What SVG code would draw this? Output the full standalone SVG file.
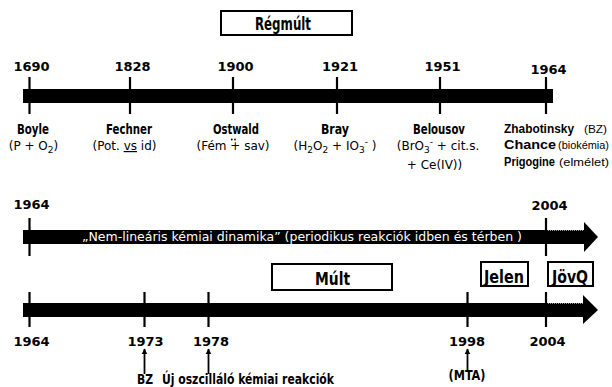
<svg xmlns="http://www.w3.org/2000/svg" width="612" height="387" viewBox="0 0 612 387">
<style>
  .bar{fill:#000}
  .tick{stroke:#000;stroke-width:2.2}
  .box{fill:#fff;stroke:#000;stroke-width:2}
  .yr{font-family:"DejaVu Sans",Verdana,sans-serif;font-weight:bold;font-size:13px;fill:#000;text-anchor:middle}
  .nm{font-family:"Liberation Sans Narrow","DejaVu Sans Condensed","Liberation Sans",sans-serif;font-weight:bold;font-size:13.5px;fill:#000}
  .nr{font-family:"Liberation Sans",Arial,sans-serif;font-weight:bold;font-size:13px;fill:#000}
  .bx{font-family:"Liberation Sans Narrow","DejaVu Sans Condensed","Liberation Sans",sans-serif;font-weight:bold;font-size:17px;fill:#000;text-anchor:middle}
  .tx{font-family:"DejaVu Sans",Tahoma,sans-serif;font-size:12px;fill:#000}
  .sm{font-family:"Liberation Sans",Arial,sans-serif;font-size:11px;fill:#000}
  .wt{font-family:"DejaVu Sans",Tahoma,sans-serif;font-size:12px;fill:#fff}
  .con{stroke:#000;stroke-width:1.8;fill:none;marker-end:url(#ah)}
  .mid{text-anchor:middle}
</style>
<defs>
  <marker id="ah" viewBox="0 0 10 10" refX="9" refY="5" markerWidth="3.2" markerHeight="4" orient="auto" markerUnits="strokeWidth">
    <path d="M0,0 L10,5 L0,10 Z" fill="#000"/>
  </marker>
</defs>

<!-- Régmúlt box -->
<g id="box-regmult">
  <rect class="box" x="221" y="11" width="131" height="24"/>
  <text class="bx" x="283" y="29.5" textLength="56" lengthAdjust="spacingAndGlyphs">Régmúlt</text>
</g>

<!-- Timeline 1 -->
<g id="timeline1">
  <rect class="bar" x="23" y="89" width="530" height="14"/>
  <line class="tick" x1="29.5" y1="77" x2="29.5" y2="114"/>
  <line class="tick" x1="130" y1="77" x2="130" y2="114"/>
  <line class="tick" x1="233" y1="77" x2="233" y2="114"/>
  <line class="tick" x1="337" y1="77" x2="337" y2="114"/>
  <line class="tick" x1="440" y1="77" x2="440" y2="114"/>
  <line class="tick" x1="546" y1="77" x2="546" y2="114"/>
  <text class="yr" x="31.5" y="71">1690</text>
  <text class="yr" x="132.5" y="71">1828</text>
  <text class="yr" x="235.5" y="71">1900</text>
  <text class="yr" x="340" y="71">1921</text>
  <text class="yr" x="442.5" y="71">1951</text>
  <text class="yr" x="548.5" y="74">1964</text>
</g>

<g id="boyle">
  <text class="nm mid" x="33" y="134" textLength="32" lengthAdjust="spacingAndGlyphs">Boyle</text>
  <text class="tx mid" x="33.5" y="150">(P + O<tspan dy="3" font-size="9">2</tspan><tspan dy="-3">)</tspan></text>
</g>
<g id="fechner">
  <text class="nm mid" x="129" y="134" textLength="46" lengthAdjust="spacingAndGlyphs">Fechner</text>
  <text class="tx mid" x="124.5" y="150">(Pot. <tspan text-decoration="underline">vs</tspan> id)</text>
</g>
<g id="ostwald">
  <text class="nm mid" x="236" y="134" textLength="46" lengthAdjust="spacingAndGlyphs">Ostwald</text>
  <circle cx="231.8" cy="139.5" r="0.9" fill="#000"/>
  <circle cx="235" cy="139.5" r="0.9" fill="#000"/>
  <text class="tx mid" x="233" y="150">(Fém + sav)</text>
</g>
<g id="bray">
  <text class="nm mid" x="335" y="134" textLength="28" lengthAdjust="spacingAndGlyphs">Bray</text>
  <text class="tx mid" x="335" y="150">(H<tspan dy="3" font-size="9">2</tspan><tspan dy="-3">O</tspan><tspan dy="3" font-size="9">2</tspan><tspan dy="-3"> + IO</tspan><tspan dy="3" font-size="9">3</tspan><tspan dy="-8" font-size="9">-</tspan><tspan dy="5"> )</tspan></text>
</g>
<g id="belousov">
  <text class="nm mid" x="439" y="134" textLength="52" lengthAdjust="spacingAndGlyphs">Belousov</text>
  <text class="tx mid" x="438" y="150">(BrO<tspan dy="3" font-size="9">3</tspan><tspan dy="-8" font-size="9">-</tspan><tspan dy="5"> + cit.s.</tspan></text>
  <text class="tx mid" x="434.5" y="169">+ Ce(IV))</text>
</g>
<g id="zhabotinsky">
  <text class="nr" x="504" y="133" textLength="70" lengthAdjust="spacingAndGlyphs">Zhabotinsky</text>
  <text class="sm" x="584" y="133" textLength="23" lengthAdjust="spacingAndGlyphs">(BZ)</text>
</g>
<g id="chance">
  <text class="nr" x="504" y="148.5" textLength="52" lengthAdjust="spacingAndGlyphs">Chance</text>
  <text class="sm" x="558" y="148.5" textLength="51" lengthAdjust="spacingAndGlyphs">(biokémia)</text>
</g>
<g id="prigogine">
  <text class="nr" x="504" y="165.5" font-size="12" textLength="51" lengthAdjust="spacingAndGlyphs">Prigogine</text>
  <text class="sm" x="559" y="165.5" textLength="50" lengthAdjust="spacingAndGlyphs">(elmélet)</text>
</g>

<!-- Timeline 2 -->
<g id="timeline2">
  <rect class="bar" x="23" y="230" width="562" height="14"/>
  <polygon class="bar" points="584,222 598,237 584,252"/>
  <line x1="548" y1="230.5" x2="584" y2="230.5" stroke="#fff" stroke-width="1" stroke-dasharray="1 1" opacity="0.6"/>
  <line class="tick" x1="29.5" y1="218" x2="29.5" y2="256"/>
  <line class="tick" x1="546" y1="218" x2="546" y2="256"/>
  <text class="yr" x="31.5" y="209">1964</text>
  <text class="yr" x="549.5" y="210">2004</text>
  <text class="wt" x="82" y="241" textLength="440" lengthAdjust="spacingAndGlyphs">„Nem-lineáris kémiai dinamika”  (periodikus reakciók idben és térben  )</text>
</g>

<g id="box-mult">
  <rect class="box" x="272" y="264" width="120" height="26"/>
  <text class="bx" x="332.5" y="285" textLength="35" lengthAdjust="spacingAndGlyphs">Múlt</text>
</g>
<g id="box-jelen">
  <rect class="box" x="481" y="262" width="47" height="24"/>
  <text class="bx" x="504" y="283" textLength="40" lengthAdjust="spacingAndGlyphs">Jelen</text>
</g>
<g id="box-jovq">
  <rect class="box" x="548" y="262" width="45" height="24"/>
  <text class="bx" x="570" y="283" textLength="36" lengthAdjust="spacingAndGlyphs">JövQ</text>
</g>

<!-- Timeline 3 -->
<g id="timeline3">
  <rect class="bar" x="23" y="303" width="562" height="14"/>
  <polygon class="bar" points="583,295 598,310 583,324"/>
  <line x1="548" y1="303.5" x2="583" y2="303.5" stroke="#fff" stroke-width="1" stroke-dasharray="1 1" opacity="0.6"/>
  <line class="tick" x1="29.5" y1="292" x2="29.5" y2="327"/>
  <line class="tick" x1="144.5" y1="292" x2="144.5" y2="327"/>
  <line class="tick" x1="208.5" y1="292" x2="208.5" y2="327"/>
  <line class="tick" x1="467.5" y1="292" x2="467.5" y2="327"/>
  <line class="tick" x1="546" y1="292" x2="546" y2="327"/>
  <text class="yr" x="31.5" y="346">1964</text>
  <text class="yr" x="145.5" y="346">1973</text>
  <text class="yr" x="211" y="346">1978</text>
  <text class="yr" x="467" y="346">1998</text>
  <text class="yr" x="547.5" y="346">2004</text>
</g>

<g id="connectors">
  <line class="con" x1="144.5" y1="374" x2="144.5" y2="349"/>
  <line class="con" x1="208.5" y1="374" x2="208.5" y2="349"/>
  <line class="con" x1="467.5" y1="370" x2="467.5" y2="349"/>
</g>

<g id="label-bz">
  <text class="nm" x="137" y="384" textLength="16" lengthAdjust="spacingAndGlyphs">BZ</text>
</g>
<g id="label-uj">
  <text class="nm" x="162" y="384" textLength="172" lengthAdjust="spacingAndGlyphs">Új oszcilláló  kémiai reakciók</text>
</g>
<g id="label-mta">
  <text class="nm mid" x="467" y="380" textLength="37" lengthAdjust="spacingAndGlyphs">(MTA)</text>
</g>
</svg>
